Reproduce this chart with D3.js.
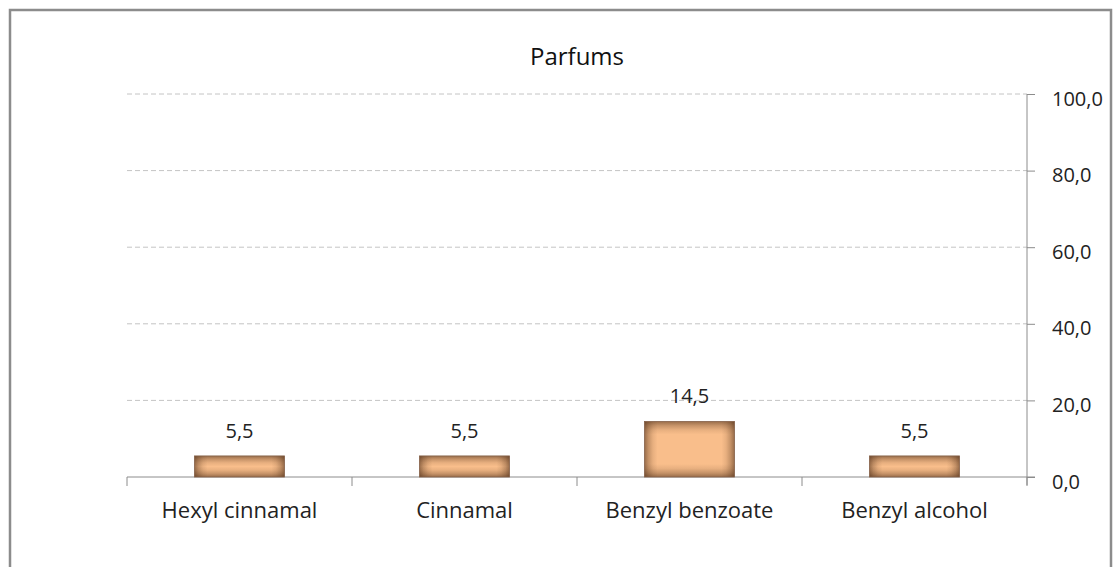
<!DOCTYPE html>
<html>
<head>
<meta charset="utf-8">
<script src="https://cdn.jsdelivr.net/npm/d3@7"></script>
<style>
  body { margin: 0; background: #fff; }
  svg { display: block; font-family: "Open Sans", sans-serif; }
</style>
</head>
<body>
<svg></svg>
<script>
const width = 1118;
const height = 567;

// chart data
const categories = ["Hexyl cinnamal", "Cinnamal", "Benzyl benzoate", "Benzyl alcohol"];
const values = [5.5, 5.5, 14.5, 5.5];
const yTicks = [0, 20, 40, 60, 80, 100];
const title = "Parfums";

const fmt = d => d.toFixed(1).replace(".", ",");

let svg = d3.select("svg").attr("width", width).attr("height", height);

// outer frame (bottom edge is below the window)
svg.append("rect")
    .attr("x", 10).attr("y", 10)
    .attr("width", 1101).attr("height", 600)
    .attr("fill", "none").attr("stroke", "#8c8c8c").attr("stroke-width", 2.5);

const plotL = 127, plotR = 1027, plotT = 94, plotB = 477;

let xScale = d3.scaleBand().domain(categories).range([plotL, plotR]).paddingInner(0.6).paddingOuter(0.3);
let xBand = d3.scaleBand().domain(categories).range([plotL, plotR]);
let yScale = d3.scaleLinear().domain([0, 100]).range([plotB, plotT]);

// gridlines
svg.append("g")
    .selectAll("line")
    .data(yTicks.filter(d => d > 0))
    .join("line")
    .attr("x1", plotL).attr("x2", plotR)
    .attr("y1", d => yScale(d)).attr("y2", d => yScale(d))
    .attr("stroke", "#c4c4c4").attr("stroke-width", 1)
    .attr("stroke-dasharray", "5,3");

// y axis on the right
let yAxis = d3.axisRight(yScale).tickValues(yTicks).tickFormat(fmt).tickSizeInner(8).tickSizeOuter(0).tickPadding(17);
let gy = svg.append("g").attr("transform", `translate(${plotR},0)`).call(yAxis);
gy.select(".domain").attr("stroke", "#8c8c8c").attr("d", `M0,${plotT}V${plotB + 8}`);
gy.selectAll(".tick line").attr("stroke", "#8c8c8c");
gy.selectAll(".tick text").attr("fill", "#222").attr("dy", "0.55em")
    .style("font-size", "20px").style("font-family", "'Open Sans', sans-serif");

// x axis
let xAxis = d3.axisBottom(xBand).tickSize(0).tickPadding(25);
let gx = svg.append("g").attr("transform", `translate(0,${plotB})`).call(xAxis);
gx.select(".domain").attr("stroke", "#8c8c8c").attr("d", `M${plotL},0H${plotR + 8}`);
gx.selectAll(".tick text").attr("fill", "#222").style("font-size", "22px").style("font-family", "'Open Sans', sans-serif");
gx.selectAll(".sep")
    .data(categories.map(c => xBand(c)).concat([plotR]))
    .join("line")
    .attr("class", "sep")
    .attr("x1", d => d).attr("x2", d => d)
    .attr("y1", 0).attr("y2", 9)
    .attr("stroke", "#8c8c8c");

// bar geometry from scales
let bars = values.map((v, i) => ({
    v: v,
    x: xScale(categories[i]),
    y: yScale(v),
    w: xScale.bandwidth(),
    h: plotB - yScale(v)
}));

// edge shading gradients (fixed pixel depth, like an inner shadow)
const edge = 13;
const shade = [[0, 0.55], [0.3, 0.3], [0.65, 0.1], [1, 0]];
let defs = svg.append("defs");
function addGrad(id, a, len, vertical) {
    let g = defs.append("linearGradient").attr("id", id).attr("gradientUnits", "userSpaceOnUse");
    if (vertical) g.attr("x1", 0).attr("x2", 0).attr("y1", a).attr("y2", a + len);
    else g.attr("y1", 0).attr("y2", 0).attr("x1", a).attr("x2", a + len);
    let e = Math.min(edge, len / 2) / len;
    let stops = shade.map(s => [s[0] * e, s[1]]);
    stops = stops.concat(stops.slice().reverse().map(s => [1 - s[0], s[1]]));
    stops.forEach(s => g.append("stop").attr("offset", s[0]).attr("stop-color", "#4a2a14").attr("stop-opacity", s[1]));
}
bars.forEach((b, i) => {
    addGrad("gh" + i, b.x, b.w, false);
    addGrad("gv" + i, b.y, b.h, true);
});

let gb = svg.append("g");
gb.selectAll("rect.base").data(bars).join("rect").attr("class", "base")
    .attr("x", d => d.x).attr("y", d => d.y).attr("width", d => d.w).attr("height", d => d.h)
    .attr("fill", "#f9be8b");
gb.selectAll("rect.sh").data(bars).join("rect").attr("class", "sh")
    .attr("x", d => d.x).attr("y", d => d.y).attr("width", d => d.w).attr("height", d => d.h)
    .attr("fill", (d, i) => `url(#gh${i})`);
gb.selectAll("rect.sv").data(bars).join("rect").attr("class", "sv")
    .attr("x", d => d.x).attr("y", d => d.y).attr("width", d => d.w).attr("height", d => d.h)
    .attr("fill", (d, i) => `url(#gv${i})`)
    .attr("stroke", "#85634c").attr("stroke-width", 0.8);

// data labels
svg.append("g")
    .selectAll("text")
    .data(bars)
    .join("text")
    .attr("x", d => d.x + d.w / 2)
    .attr("y", d => d.y - 18)
    .attr("text-anchor", "middle")
    .attr("fill", "#222")
    .style("font-size", "20px")
    .text(d => fmt(d.v));

// title
svg.append("text")
    .attr("x", (plotL + plotR) / 2)
    .attr("y", 65)
    .attr("text-anchor", "middle")
    .attr("fill", "#111")
    .style("font-size", "24px")
    .text(title);
</script>
</body>
</html>
